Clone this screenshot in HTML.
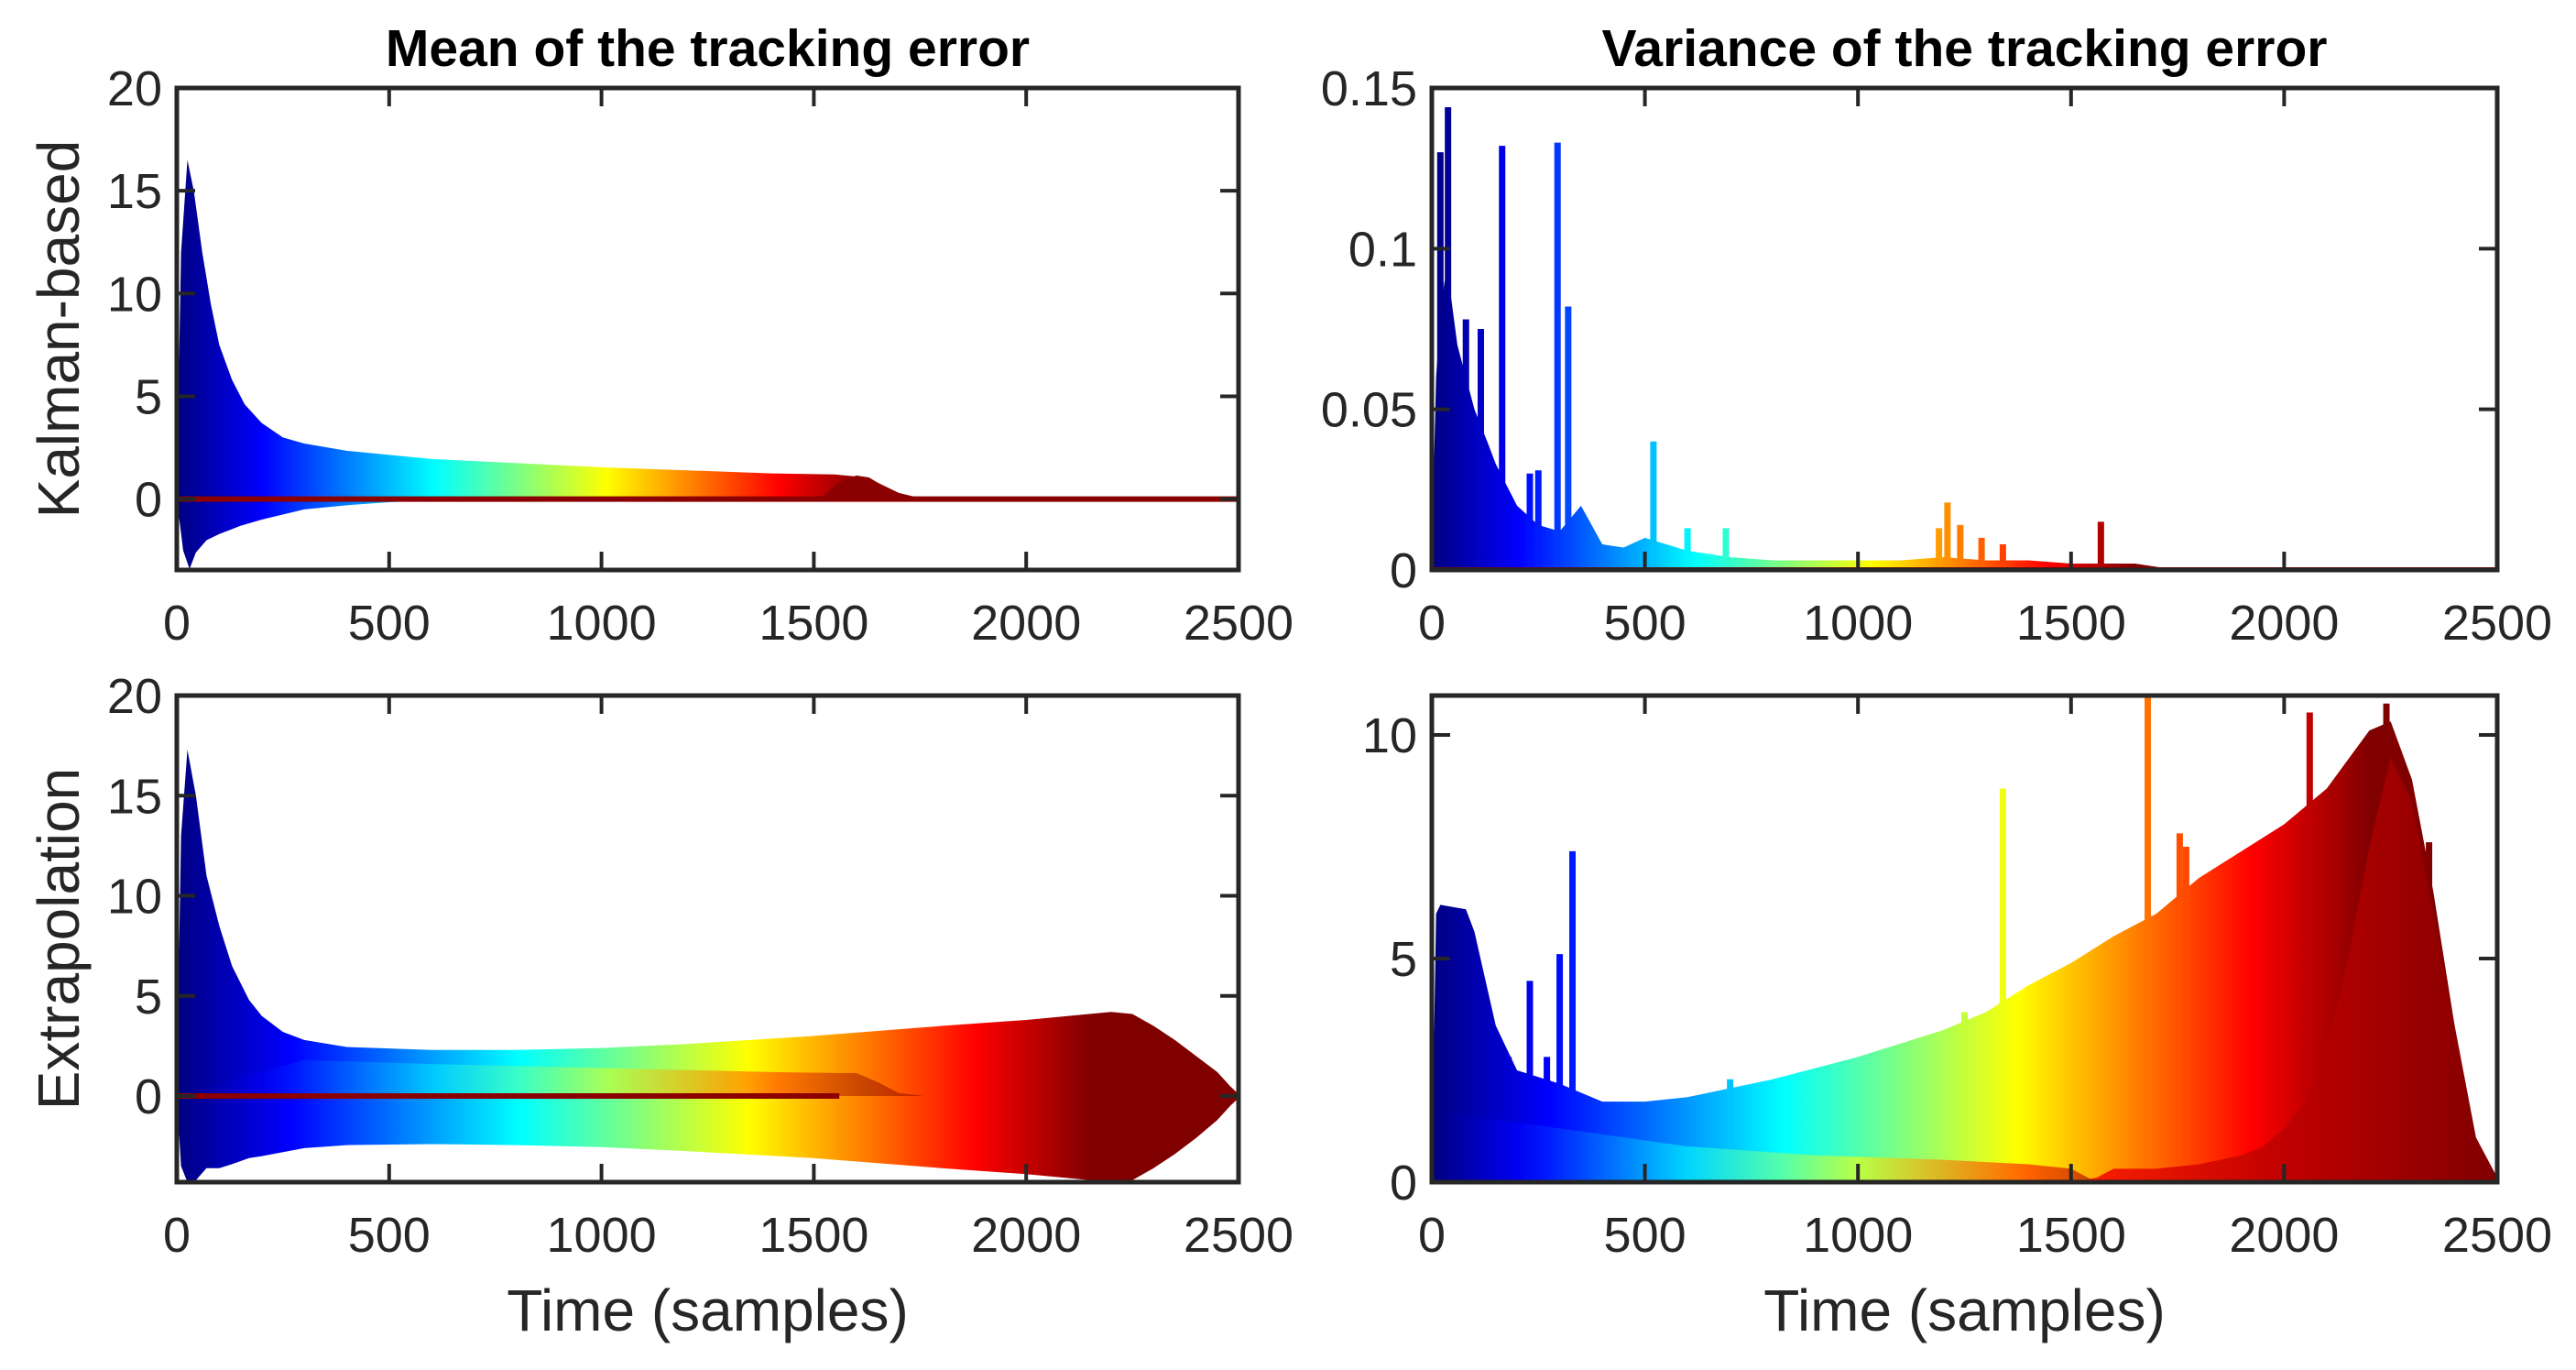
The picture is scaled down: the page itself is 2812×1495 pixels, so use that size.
<!DOCTYPE html>
<html><head><meta charset="utf-8"><style>
html,body{margin:0;padding:0;background:#fff}
svg{display:block}
text{font-family:"Liberation Sans",Arial,sans-serif;fill:#262626}
</style></head><body>
<svg id="fig" width="2812" height="1495" viewBox="0 0 2812 1495" xmlns="http://www.w3.org/2000/svg">
<defs id="defs"></defs>
<g id="root"></g>
</svg>
<script>
// ---- data ----
const xTicks=[0,500,1000,1500,2000,2500];
// Top-left: Kalman mean
const klT=[0,10,25,40,60,80,100,130,160,200,250,300,400,500,600,800,1000,1200,1400,1550,1600,1650,1700,1750,1800,2500];
const klUp=[0.5,12,16.5,15,12,9.5,7.5,5.8,4.6,3.7,3.0,2.7,2.35,2.15,1.95,1.75,1.55,1.4,1.25,1.2,1.1,0.8,0.3,0.05,0.02,0.02];
const klLoT=[0,15,30,45,70,100,150,200,300,400,500,600,2500];
const klLo=[0,-2.5,-3.4,-2.6,-2.0,-1.7,-1.3,-1.0,-0.5,-0.3,-0.15,-0.05,0];
const klBumpT=[1450,1520,1560,1600,1630,1670,1720,1760];
const klBump=[0,0.15,0.8,1.15,1.05,0.55,0.1,0];
// Bottom-left: extrapolation mean
const exT=[0,10,25,45,70,100,130,170,200,250,300,400,600,800,1000,1200,1500,1800,2000,2100,2200,2250,2300,2350,2400,2450,2480,2500];
const exUp=[0.5,13,17.3,15,11,8.5,6.5,4.8,4.0,3.2,2.8,2.45,2.3,2.3,2.4,2.6,3.0,3.5,3.8,4.0,4.2,4.1,3.5,2.8,2.0,1.2,0.5,0.1];
const exLo=[0,-3.5,-4.3,-4.2,-3.6,-3.6,-3.4,-3.1,-3.0,-2.8,-2.6,-2.45,-2.4,-2.45,-2.55,-2.75,-3.1,-3.6,-3.9,-4.1,-4.3,-4.2,-3.6,-2.9,-2.1,-1.2,-0.5,-0.1];
const exInT=[0,300,600,1000,1400,1550,1600,1650,1700,1760];
const exInUp=[0,1.8,1.6,1.4,1.2,1.15,1.15,0.7,0.15,0];
// Top-right: Kalman variance
const kvT=[0,10,20,30,45,60,80,100,130,150,200,250,300,350,400,450,500,600,700,800,900,1000,1100,1200,1300,1400,1500,1600,1650,1700,1750,2500];
const kvUp=[0.005,0.06,0.08,0.09,0.085,0.07,0.06,0.05,0.04,0.033,0.02,0.014,0.012,0.02,0.008,0.007,0.01,0.006,0.004,0.003,0.003,0.003,0.003,0.004,0.003,0.003,0.002,0.002,0.002,0.001,0.0,0.0];
const kvSpkT=[20,38,80,115,165,230,250,295,320,520,600,690,1190,1210,1240,1290,1340,1570];
const kvSpk=[0.13,0.144,0.078,0.075,0.132,0.03,0.031,0.133,0.082,0.04,0.013,0.013,0.013,0.021,0.014,0.01,0.008,0.015];
// Bottom-right: extrapolation variance
const evT=[0,10,20,80,100,150,200,300,400,500,600,700,800,1000,1200,1300,1400,1500,1600,1700,1800,1900,2000,2100,2200,2250,2300,2350,2400,2450,2500];
const evUp=[0.2,6.0,6.2,6.1,5.6,3.5,2.5,2.2,1.8,1.8,1.9,2.1,2.3,2.8,3.4,3.8,4.4,4.9,5.5,6.0,6.8,7.4,8.0,8.8,10.1,10.3,9.0,6.5,3.5,1.0,0.1];
const evSpkT=[180,230,270,300,330,700,1250,1340,1680,1755,1770,2050,2060,2240,2340];
const evSpk=[2.8,4.5,2.8,5.1,7.4,2.3,3.8,8.8,10.9,7.8,7.5,8.0,10.5,10.7,7.6];
const evInT=[1500,1560,1600,1700,1800,1900,1950,2000,2050,2100,2150,2200,2250,2300,2350,2400,2450,2500];
const evIn=[0,0.1,0.3,0.3,0.4,0.6,0.8,1.2,1.8,3.0,5.0,7.5,9.5,8.5,6.0,3.5,1.0,0.1];
const evLowT=[0,300,600,900,1200,1400,1500,1560];
const evLow=[1.6,1.2,0.8,0.6,0.5,0.4,0.3,0];
// tick labels
const yTicksKM=[0,5,10,15,20], yTicksEM=[0,5,10,15,20];
const yTicksKV=[0,0.05,0.1,0.15], yTicksEV=[0,5,10];
const yTickLabKV=['0','0.05','0.1','0.15'];

// ---- rendering ----
const NS='http://www.w3.org/2000/svg';
const root=document.getElementById('root'), defs=document.getElementById('defs');
function mk(tag,attrs,parent){const e=document.createElementNS(NS,tag);for(const k in attrs)e.setAttribute(k,attrs[k]);(parent||root).appendChild(e);return e;}
const jet=[[0,'#000080'],[0.125,'#0000ff'],[0.375,'#00ffff'],[0.625,'#ffff00'],[0.875,'#ff0000'],[1,'#800000']];
let gid=0;
function grad(x0,x1){const id='g'+(gid++);const g=mk('linearGradient',{id:id,gradientUnits:'userSpaceOnUse',x1:x0,y1:0,x2:x1,y2:0},defs);
 jet.forEach(s=>mk('stop',{offset:s[0],'stop-color':s[1]},g));return 'url(#'+id+')';}
function jetAt(t){t=Math.max(0,Math.min(1,t));for(let i=1;i<jet.length;i++){if(t<=jet[i][0]){const a=jet[i-1],b=jet[i];const f=(t-a[0])/(b[0]-a[0]);
 const c1=parseInt(a[1].slice(1),16),c2=parseInt(b[1].slice(1),16);const ch=s=>Math.round(((c1>>s)&255)*(1-f)+((c2>>s)&255)*f);
 return 'rgb('+ch(16)+','+ch(8)+','+ch(0)+')';}}return jet[jet.length-1][1];}

const TF=54;
function panel(o){
 const g=mk('g',{});
 
 
 const sx=v=>o.L+(v-0)/2500*(o.R-o.L);
 const sy=v=>o.B-(v-o.y0)/(o.y1-o.y0)*(o.B-o.T);
 const clipId='c'+(gid++);const cp=mk('clipPath',{id:clipId},defs);mk('rect',{x:o.L,y:o.T,width:o.R-o.L,height:o.B-o.T},cp);
 const pg=mk('g',{'clip-path':'url(#'+clipId+')'},g);
 o.draw(pg,sx,sy);
 const box=mk('rect',{x:o.L,y:o.T,width:o.R-o.L,height:o.B-o.T,fill:'none',stroke:'#262626','stroke-width':5},g);
 
 
 const tl=20;
 xTicks.forEach(v=>{const x=sx(v);
  mk('line',{x1:x,y1:o.B,x2:x,y2:o.B-tl,stroke:'#262626','stroke-width':4},g);
  mk('line',{x1:x,y1:o.T,x2:x,y2:o.T+tl,stroke:'#262626','stroke-width':4},g);
  const t=mk('text',{x:x,y:o.B+76,'font-size':TF,'text-anchor':'middle'},g);t.textContent=String(v);
  
  });
 o.yt.forEach((v,i)=>{const y=sy(v);
  mk('line',{x1:o.L,y1:y,x2:o.L+tl,y2:y,stroke:'#262626','stroke-width':4},g);
  mk('line',{x1:o.R,y1:y,x2:o.R-tl,y2:y,stroke:'#262626','stroke-width':4},g);
  const t=mk('text',{x:o.L-16,y:y+19,'font-size':TF,'text-anchor':'end'},g);t.textContent=o.ytl?o.ytl[i]:String(v);
  
  });
 return {sx,sy};
}
function area(pg,sx,sy,tU,up,tL,lo,fill){
 let d='M'+sx(tU[0])+','+sy(up[0]);for(let i=1;i<tU.length;i++)d+='L'+sx(tU[i])+','+sy(up[i]);
 for(let i=tL.length-1;i>=0;i--)d+='L'+sx(tL[i])+','+sy(lo[i]);
 const p=mk('path',{d:d+'Z',fill:fill},pg);return p;}
function spikes(pg,sx,sy,ts,vs,cend){ts.forEach((t,i)=>{const l=mk('line',{x1:sx(t),y1:sy(0),x2:sx(t),y2:sy(vs[i]),stroke:jetAt(t/cend),'stroke-width':7},pg);
 
 });}

const LL=193,LR=1352,RL=1563,RR=2726,T1=96,B1=622,T2=759,B2=1290;
panel({name:'kalman-mean-panel',L:LL,R:LR,T:T1,B:B1,y0:-3.45,y1:20,yt:yTicksKM,draw:(pg,sx,sy)=>{
 const f=grad(sx(0),sx(1620));
 const a=area(pg,sx,sy,klT,klUp,klLoT,klLo,f);
 const z=klBumpT.map(()=>0);
 const b=area(pg,sx,sy,klBumpT,klBump,klBumpT,z,'#8b0000');
 const l=mk('line',{x1:sx(0),y1:sy(0),x2:sx(2500),y2:sy(0),stroke:'#8b0000','stroke-width':6},pg);
}});
panel({name:'extrapolation-mean-panel',L:LL,R:LR,T:T2,B:B2,y0:-4.3,y1:20,yt:yTicksEM,draw:(pg,sx,sy)=>{
 const f=grad(sx(0),sx(2150));
 const a=area(pg,sx,sy,exT,exUp,exT,exLo,f);
 const f2=grad(sx(0),sx(1620));
 const z=exInT.map(()=>0);
 const b=area(pg,sx,sy,exInT,exInUp,exInT,z,f2);b.setAttribute('opacity','0.45');
 const l=mk('line',{x1:sx(0),y1:sy(0),x2:sx(1560),y2:sy(0),stroke:'#8b0000','stroke-width':6},pg);
}});
panel({name:'kalman-variance-panel',L:RL,R:RR,T:T1,B:B1,y0:0,y1:0.15,yt:yTicksKV,ytl:yTickLabKV,draw:(pg,sx,sy)=>{
 const f=grad(sx(0),sx(1650));
 const z=kvT.map(()=>0);
 const a=area(pg,sx,sy,kvT,kvUp,kvT,z,f);
 spikes(pg,sx,sy,kvSpkT,kvSpk,1650);
 const l=mk('line',{x1:sx(0),y1:sy(0),x2:sx(2500),y2:sy(0),stroke:'#8b0000','stroke-width':6},pg);
}});
panel({name:'extrapolation-variance-panel',L:RL,R:RR,T:T2,B:B2,y0:0,y1:10.88,yt:yTicksEV,draw:(pg,sx,sy)=>{
 const f=grad(sx(0),sx(2200));
 const z=evT.map(()=>0);
 const a=area(pg,sx,sy,evT,evUp,evT,z,f);
 spikes(pg,sx,sy,evSpkT,evSpk,2200);
 const f3=grad(sx(0),sx(1600));
 const zl=evLowT.map(()=>0);
 const c=area(pg,sx,sy,evLowT,evLow,evLowT,zl,f3);c.setAttribute('opacity','0.6');
 const gi='g'+(gid++);const g=mk('linearGradient',{id:gi,gradientUnits:'userSpaceOnUse',x1:sx(1500),y1:0,x2:sx(2500),y2:0},defs);
 [[0,'#ff2000'],[0.5,'#c00000'],[0.75,'#a00000'],[1,'#800000']].forEach(s=>mk('stop',{offset:s[0],'stop-color':s[1]},g));
 const zi=evInT.map(()=>0);
 const b=area(pg,sx,sy,evInT,evIn,evInT,zi,'url(#'+gi+')');
 const l=mk('line',{x1:sx(0),y1:sy(0),x2:sx(1560),y2:sy(0),stroke:'#8b0000','stroke-width':5},pg);
}});

function txt(s,attrs,name){const t=mk('text',attrs);t.textContent=s;return t;}
txt('Mean of the tracking error',{x:(LL+LR)/2,y:72,'font-size':57,'font-weight':'bold','text-anchor':'middle',style:'fill:#000'},'title-mean');
txt('Variance of the tracking error',{x:(RL+RR)/2,y:72,'font-size':57,'font-weight':'bold','text-anchor':'middle',style:'fill:#000'},'title-variance');
txt('Kalman-based',{x:0,y:0,'font-size':64,'text-anchor':'middle',transform:'translate(86,'+((T1+B1)/2)+') rotate(-90)'},'y-axis-title-kalman');
txt('Extrapolation',{x:0,y:0,'font-size':64,'text-anchor':'middle',transform:'translate(86,'+((T2+B2)/2)+') rotate(-90)'},'y-axis-title-extrapolation');
txt('Time (samples)',{x:(LL+LR)/2,y:1452,'font-size':64,'text-anchor':'middle'},'x-axis-title-left');
txt('Time (samples)',{x:(RL+RR)/2,y:1452,'font-size':64,'text-anchor':'middle'},'x-axis-title-right');
</script>
</body></html>
